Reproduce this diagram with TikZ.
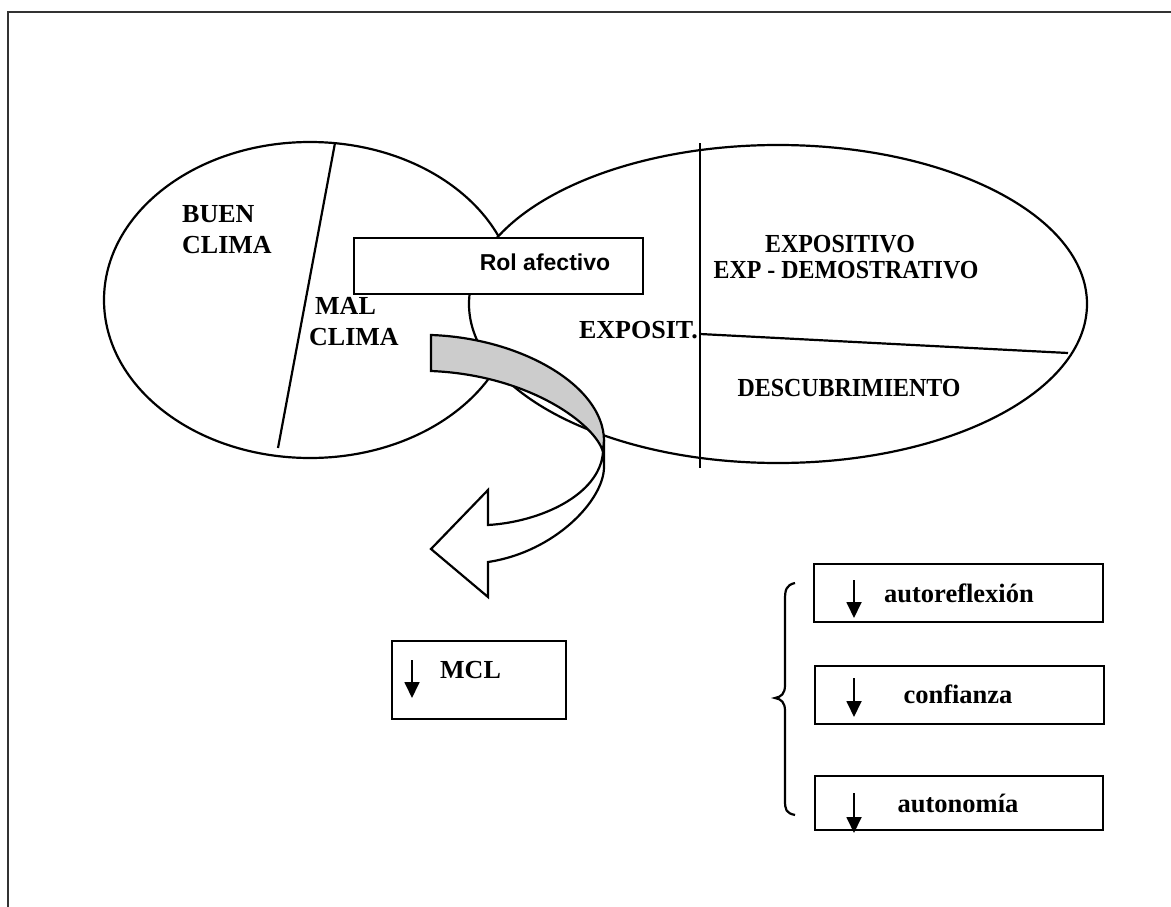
\documentclass[tikz,border=0pt]{standalone}
\usepackage{fontspec}
\setmainfont{Liberation Serif}
\newfontfamily\arialfont{Liberation Sans}
\usetikzlibrary{arrows.meta}
\tikzset{
  lw/.style={line width=2.2pt},
  txt/.style={font=\bfseries\fontsize{26}{30}\selectfont, inner sep=0pt, anchor=base},
  boxnode/.style={draw, lw, fill=white, inner sep=0pt},
  downarr/.style={line width=1.8pt, -{Triangle[width=15pt,length=16pt]}},
}
\begin{document}
\begin{tikzpicture}[x=1pt,y=-1pt]
\useasboundingbox (0,0) rectangle (1171,907);
% frame
\draw[line width=2.6pt, black!80] (1171,12) -- (8,12) -- (8,907);
% left ellipse
\draw[lw] (310,300) ellipse [x radius=206, y radius=158];
\draw[lw] (335,143) -- (278,448);
% right ellipse
\draw[lw, fill=white] (778,304) ellipse [x radius=309, y radius=159];
\draw[lw] (700,143) -- (700,468);
\draw[lw] (700,334) -- (1068,353);
% texts left ellipse
\node[txt, anchor=base west] (buen) at (182,222) {BUEN};
\node[txt, anchor=base west] (clima1) at (182,253) {CLIMA};
\node[txt, anchor=base west] (mal) at (315,314) {MAL};
\node[txt, anchor=base west] (clima2) at (309,345) {CLIMA};
% texts right ellipse
\node[txt, xscale=0.92] (expositivo) at (840,252) {EXPOSITIVO};
\node[txt, xscale=0.92] (expdem) at (846,278) {EXP - DEMOSTRATIVO};
\node[txt, anchor=base east] (exposit) at (698,338) {EXPOSIT.};
\node[txt, xscale=0.92] (descub) at (849,396) {DESCUBRIMIENTO};
% Rol afectivo box
\node[boxnode, minimum width=289pt, minimum height=56pt] (rolbox) at (498.5,266) {};
\node[inner sep=0pt, anchor=base, font=\arialfont\bfseries\fontsize{23}{27}\selectfont] (rol) at (545,270) {Rol afectivo};
% curved ribbon arrow
\draw[lw, fill=white] (603,452) .. controls (600,495) and (540,522) .. (488,525)
  -- (488,490) -- (431,549) -- (488,597) -- (488,562)
  .. controls (555,552) and (604,500) .. (604,467) -- (604,440) -- cycle;
\draw[lw, fill=black!20] (431,335) .. controls (520,338) and (603,385) .. (604,440)
  -- (603,452) .. controls (596,425) and (530,375) .. (431,371) -- cycle;
% MCL box
\node[boxnode, minimum width=174pt, minimum height=78pt] (mclbox) at (479,680) {};
\node[txt, anchor=base west] (mcl) at (440,678) {MCL};
\coordinate (m1) at (412,660); \coordinate (m2) at (412,698);
\draw[downarr] (m1) -- (m2);
% right boxes
\node[boxnode, minimum width=289pt, minimum height=58pt] (b1) at (958.5,593) {};
\node[boxnode, minimum width=289pt, minimum height=58pt] (b2) at (959.5,695) {};
\node[boxnode, minimum width=288pt, minimum height=54pt] (b3) at (959,803) {};
\node[txt, font=\bfseries\fontsize{26.5}{30}\selectfont] (t1) at (959,602) {autoreflexión};
\node[txt, font=\bfseries\fontsize{26.5}{30}\selectfont] (t2) at (958,703) {confianza};
\node[txt, font=\bfseries\fontsize{26.5}{30}\selectfont] (t3) at (958,812) {autonomía};
\coordinate (a1) at (854,580); \coordinate (a1e) at (854,618);
\coordinate (a2) at (854,678); \coordinate (a2e) at (854,717);
\coordinate (a3) at (854,793); \coordinate (a3e) at (854,833);
\draw[downarr] (a1) -- (a1e);
\draw[downarr] (a2) -- (a2e);
\draw[downarr] (a3) -- (a3e);
% brace
\draw[lw] (795,583) .. controls (786,585) and (785,590) .. (785,600) -- (785,685)
  .. controls (785,694) and (781,697) .. (775,698)
  .. controls (781,699) and (785,702) .. (785,711) -- (785,800)
  .. controls (785,810) and (786,813) .. (795,815);
\end{tikzpicture}
\end{document}
